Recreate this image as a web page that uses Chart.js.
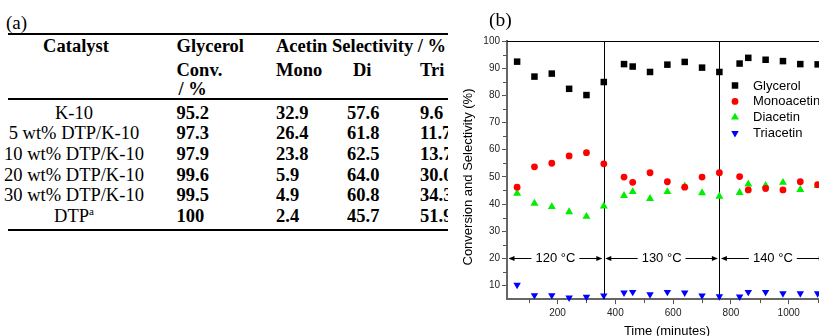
<!DOCTYPE html>
<html>
<head>
<meta charset="utf-8">
<script src="https://cdn.jsdelivr.net/npm/chart.js@4.4.0/dist/chart.umd.min.js"></script>
<style>
html,body{margin:0;padding:0;background:#fff;}
body{width:819px;height:336px;overflow:hidden;position:relative;}
#tbl{position:absolute;left:0;top:0;width:448px;height:336px;overflow:hidden;}
.t{position:absolute;white-space:nowrap;font-family:"Liberation Serif","Times New Roman",serif;color:#000;}
.b{font-weight:bold;}
.rule{position:absolute;left:8px;width:440px;background:#000;}
#c{position:absolute;left:450px;top:0;}
</style>
</head>
<body>
<div id="tbl"></div>
<canvas id="c" width="390" height="336" style="width:390px;height:336px;"></canvas>
<script>
// ---------- panel (a): table data ----------
const catalysts   = ['K-10', '5 wt% DTP/K-10', '10 wt% DTP/K-10', '20 wt% DTP/K-10', '30 wt% DTP/K-10', 'DTP'];
const catalystSup = ['', '', '', '', '', 'a'];
const glycerolConv = ['95.2', '97.3', '97.9', '99.6', '99.5', '100'];
const monoSel = ['32.9', '26.4', '23.8', '5.9', '4.9', '2.4'];
const diSel   = ['57.6', '61.8', '62.5', '64.0', '60.8', '45.7'];
const triSel  = ['9.6', '11.7', '13.7', '30.0', '34.3', '51.9'];

// ---------- panel (b): chart data ----------
const times      = [60, 120, 180, 240, 300, 360, 430, 460, 520, 580, 640, 700, 760, 830, 860, 920, 980, 1040, 1100];
const glycerol   = [92.4, 86.9, 88.0, 82.4, 80.1, 84.9, 91.5, 90.6, 88.6, 91.3, 92.3, 90.2, 88.6, 91.7, 93.8, 93.1, 92.6, 91.5, 91.4];
const monoacetin = [46.2, 53.7, 55.0, 57.7, 58.9, 54.8, 49.9, 48.0, 51.5, 48.2, 46.2, 49.9, 51.5, 50.1, 45.2, 45.7, 45.2, 48.2, 47.1];
const diacetin   = [43.9, 40.2, 39.0, 37.1, 35.4, 39.2, 43.1, 44.5, 42.0, 44.5, 46.6, 44.1, 42.8, 44.2, 47.3, 46.8, 47.9, 45.3, 46.7];
const triacetin  = [10.2, 6.4, 6.4, 5.5, 5.8, 6.3, 7.4, 7.6, 6.7, 7.6, 7.4, 6.3, 6.0, 5.9, 7.6, 7.6, 7.1, 7.1, 7.1];
const seriesNames = ['Glycerol', 'Monoacetin', 'Diacetin', 'Triacetin'];
const xTicks  = [200, 400, 600, 800, 1000];
const yTicks  = [10, 20, 30, 40, 50, 60, 70, 80, 90, 100];
const xMinor  = [100, 300, 500, 700, 900, 1100];
const yMinor  = [15, 25, 35, 45, 55, 65, 75, 85, 95];
const phaseEdges  = [25, 360, 760, 1130];
const phaseLabels = ['120 °C', '130 °C', '140 °C'];
const arrowLevel  = 20;
const xTitle = 'Time (minutes)';
const yTitle = 'Conversion and Selectivity (%)';

// ---------- build table ----------
const tbl = document.getElementById('tbl');
const FS = 18.5;
function put(text, x, baseline, bold, center, size, sup) {
  const fs = size || FS;
  const d = document.createElement('div');
  d.className = 't' + (bold ? ' b' : '');
  d.style.fontSize = fs + 'px';
  d.style.lineHeight = fs + 'px';
  d.style.left = x + 'px';
  d.style.top = (baseline - fs * 0.8375) + 'px';
  if (center) d.style.transform = 'translateX(-50%)';
  d.appendChild(document.createTextNode(text));
  if (sup) {
    const s = document.createElement('span');
    s.textContent = sup;
    s.style.fontSize = '11px';
    s.style.position = 'relative';
    s.style.top = '-7px';
    d.appendChild(s);
  }
  tbl.appendChild(d);
}
function rule(top, h) {
  const r = document.createElement('div');
  r.className = 'rule';
  r.style.top = top + 'px';
  r.style.height = h + 'px';
  tbl.appendChild(r);
}
put('(a)', 6, 28.5, false, false, 19);
rule(32.5, 2.2);
put('Catalyst', 76, 52.3, true, true);
put('Glycerol', 176.5, 52.3, true);
put('Acetin Selectivity / %', 276, 52.3, true);
put('Conv.', 176.5, 76.5, true);
put('Mono', 276, 76.5, true);
put('Di', 353, 76.5, true);
put('Tri', 420, 76.5, true);
put('/ %', 178.5, 95.5, true);
rule(98, 1.6);
catalysts.forEach((c, i) => {
  const bl = 119 + i * 20.7;
  put(c, 74, bl, false, true, FS, catalystSup[i]);
  put(glycerolConv[i], 176.5, bl, true);
  put(monoSel[i], 276, bl, true);
  put(diSel[i], 347, bl, true);
  put(triSel[i], 420, bl, true);
});
rule(228.5, 2.2);

// (b) label
const lb = document.createElement('div');
lb.className = 't';
lb.style.cssText = 'left:489px;top:10.3px;font-size:19.5px;line-height:19.5px;';
lb.textContent = '(b)';
document.body.appendChild(lb);

// ---------- chart ----------
const FONT = '"Liberation Sans", Arial, sans-serif';
Chart.defaults.font.family = FONT;
const styleList = [
  {pointStyle: 'rect',     color: '#000000', radius: 4.6, rotation: 0},
  {pointStyle: 'circle',   color: '#ff0000', radius: 3.4, rotation: 0},
  {pointStyle: 'triangle', color: '#00ee00', radius: 4.6, rotation: 0},
  {pointStyle: 'triangle', color: '#0000ff', radius: 4.3, rotation: 180}
];
const seriesVals = [glycerol, monoacetin, diacetin, triacetin];
const datasets = seriesNames.map((name, i) => ({
  label: name,
  data: times.map((t, j) => ({x: t, y: seriesVals[i][j]})),
  pointStyle: styleList[i].pointStyle,
  pointRadius: styleList[i].radius,
  pointRotation: styleList[i].rotation,
  backgroundColor: styleList[i].color,
  borderColor: styleList[i].color,
  borderWidth: 0,
  pointBorderWidth: 0,
  showLine: false,
  clip: false
}));

function marker(ctx, style, x, y, r, rot, color) {
  ctx.save();
  ctx.fillStyle = color;
  ctx.beginPath();
  if (style === 'rect') {
    const s = Math.SQRT1_2 * r;
    ctx.rect(x - s, y - s, 2 * s, 2 * s);
  } else if (style === 'circle') {
    ctx.arc(x, y, r, 0, Math.PI * 2);
  } else {
    let a = rot * Math.PI / 180;
    ctx.moveTo(x + Math.sin(a) * r, y - Math.cos(a) * r);
    a += 2 * Math.PI / 3;
    ctx.lineTo(x + Math.sin(a) * r, y - Math.cos(a) * r);
    a += 2 * Math.PI / 3;
    ctx.lineTo(x + Math.sin(a) * r, y - Math.cos(a) * r);
    ctx.closePath();
  }
  ctx.fill();
  ctx.restore();
}

const decor = {
  id: 'decor',
  beforeDatasetsDraw(chart) {
    const {ctx, chartArea: a, scales: {x, y}} = chart;
    ctx.save();
    ctx.strokeStyle = '#000';
    ctx.lineWidth = 1;
    ctx.beginPath();
    ctx.moveTo(a.left, Math.round(a.top) + 0.5);
    ctx.lineTo(a.right, Math.round(a.top) + 0.5);
    ctx.stroke();
    phaseEdges.slice(1, -1).forEach(v => {
      const px = Math.round(x.getPixelForValue(v)) + 0.5;
      ctx.beginPath();
      ctx.moveTo(px, a.top);
      ctx.lineTo(px, a.bottom);
      ctx.stroke();
    });
    // minor ticks
    ctx.strokeStyle = '#555';
    ctx.lineWidth = 1;
    xMinor.forEach(v => {
      const px = Math.round(x.getPixelForValue(v)) + 0.5;
      ctx.beginPath();
      ctx.moveTo(px, a.bottom);
      ctx.lineTo(px, a.bottom + 4);
      ctx.stroke();
    });
    yMinor.forEach(v => {
      const py = Math.round(y.getPixelForValue(v)) + 0.5;
      ctx.beginPath();
      ctx.moveTo(a.left, py);
      ctx.lineTo(a.left - 4, py);
      ctx.stroke();
    });
    // temperature arrows
    const py = y.getPixelForValue(arrowLevel);
    ctx.font = '13px ' + FONT;
    ctx.fillStyle = '#000';
    ctx.strokeStyle = '#000';
    ctx.textAlign = 'center';
    ctx.textBaseline = 'middle';
    for (let i = 0; i < phaseLabels.length; i++) {
      const x0 = x.getPixelForValue(phaseEdges[i]) + 1.5;
      const x1 = x.getPixelForValue(phaseEdges[i + 1]) - 1.5;
      const cx = (x0 + x1) / 2;
      const w = ctx.measureText(phaseLabels[i]).width;
      ctx.fillText(phaseLabels[i], cx, py + 0.5);
      const ly = Math.round(py) + 0.5;
      ctx.beginPath();
      ctx.moveTo(x0 + 3, ly); ctx.lineTo(cx - w / 2 - 4, ly);
      ctx.moveTo(cx + w / 2 + 4, ly); ctx.lineTo(x1 - 3, ly);
      ctx.stroke();
      ctx.beginPath();
      ctx.moveTo(x0, ly); ctx.lineTo(x0 + 6, ly - 2.5); ctx.lineTo(x0 + 6, ly + 2.5); ctx.closePath();
      ctx.moveTo(x1, ly); ctx.lineTo(x1 - 6, ly - 2.5); ctx.lineTo(x1 - 6, ly + 2.5); ctx.closePath();
      ctx.fill();
    }
    ctx.restore();
  },
  afterDraw(chart) {
    const {ctx} = chart;
    ctx.save();
    ctx.fillStyle = '#000';
    ctx.font = '13px ' + FONT;
    ctx.textAlign = 'center';
    ctx.textBaseline = 'middle';
    ctx.fillText(xTitle, 217, 331.5);
    ctx.save();
    ctx.translate(18.5, 177);
    ctx.rotate(-Math.PI / 2);
    ctx.fillText(yTitle, 0, 0);
    ctx.restore();
    // legend
    ctx.textAlign = 'left';
    chart.data.datasets.forEach((d, i) => {
      const yy = 85.5 + i * 15.9;
      marker(ctx, d.pointStyle, 285, yy, d.pointRadius, d.pointRotation, d.backgroundColor);
      ctx.fillStyle = '#000';
      ctx.fillText(d.label, 303, yy + 0.5);
    });
    ctx.restore();
  }
};

new Chart(document.getElementById('c'), {
  type: 'scatter',
  data: {datasets},
  options: {
    responsive: false,
    animation: false,
    devicePixelRatio: 1,
    layout: {padding: {top: 41, right: 13.7, left: 0, bottom: 0}},
    plugins: {legend: {display: false}, tooltip: {enabled: false}},
    scales: {
      x: {
        type: 'linear', min: 25, max: 1130,
        afterBuildTicks: s => { s.ticks = xTicks.map(v => ({value: v})); },
        afterFit: s => { s.height = 336 - 299.1; },
        ticks: {font: {size: 10}, color: '#222', padding: 3, maxRotation: 0, autoSkip: false, callback: v => String(v)},
        grid: {drawOnChartArea: false, drawTicks: true, tickLength: 5, color: '#555', lineWidth: 1},
        border: {display: true, color: '#666', width: 2}
      },
      y: {
        type: 'linear', min: 5, max: 100,
        afterBuildTicks: s => { s.ticks = yTicks.map(v => ({value: v})); },
        afterFit: s => { s.width = 57; },
        ticks: {font: {size: 10}, color: '#222', padding: 2, autoSkip: false, callback: v => String(v)},
        grid: {drawOnChartArea: false, drawTicks: true, tickLength: 5, color: '#555', lineWidth: 1},
        border: {display: true, color: '#666', width: 2}
      }
    }
  },
  plugins: [decor]
});
</script>
</body>
</html>
